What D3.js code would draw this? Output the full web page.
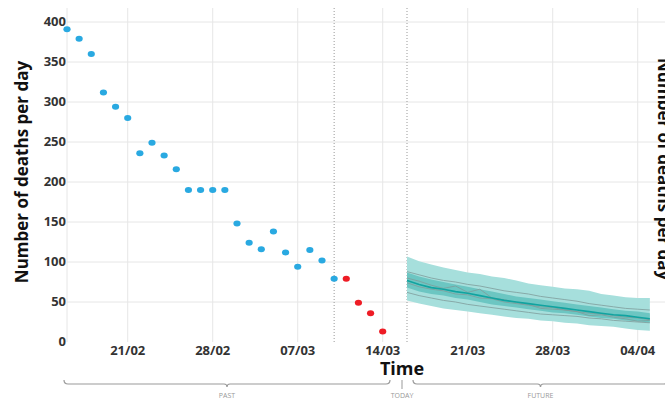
<!DOCTYPE html>
<html><head><meta charset="utf-8">
<script src="https://cdn.jsdelivr.net/npm/d3@7"></script>
<style>body{margin:0;background:#fff;font-family:"Open Sans",sans-serif}</style>
</head><body><svg id="chart" width="665" height="400"></svg>
<script>
// observed deaths, 16/02 .. 14/03
const obsDates = d3.timeDays(new Date(2021, 1, 16), new Date(2021, 2, 15));
const observed = [391, 379, 360, 312, 294, 280, 236, 249, 233, 216, 190, 190, 190, 190,
  148, 124, 116, 138, 112, 94, 115, 102, 79, 79, 49, 36, 13];
const redFrom = 23; // last 4 points are incomplete
// forecast 16/03 .. 05/04
const fcDates = d3.timeDays(new Date(2021, 2, 16), new Date(2021, 3, 6));
const median = [77, 72, 68, 66, 63, 61, 58, 55, 52, 50, 48, 46, 44, 42, 40, 38, 36, 34, 33, 31, 29];
const inLo = [68, 63, 60, 58, 55, 53, 50, 47, 45, 43, 41, 39, 37, 36, 34, 32, 30, 29, 27, 26, 24];
const inHi = [87, 82, 78, 75, 72, 69, 66, 63, 60, 57, 55, 53, 51, 49, 47, 45, 43, 41, 39, 38, 36];
const outLo = [52, 48, 45, 42, 40, 38, 36, 34, 32, 30, 29, 27, 26, 24, 23, 21, 20, 19, 17, 15, 14];
const outHi = [107, 101, 97, 93, 90, 87, 85, 82, 80, 77, 73, 71, 69, 67, 66, 64, 60, 58, 56, 55, 55];
const trajectories = [
  [88, 84, 80, 77, 75, 72, 70, 67, 64, 62, 60, 57, 55, 53, 51, 48, 46, 44, 42, 41, 40],
  [62, 58, 55, 52, 50, 47, 45, 43, 41, 39, 37, 35, 34, 33, 32, 30, 29, 27, 26, 25, 24],
  [80, 76, 71, 67, 70, 62, 66, 55, 53, 49, 47, 42, 41, 40, 38, 33, 34, 31, 29, 26, 27],
  [74, 69, 66, 64, 60, 59, 55, 54, 50, 48, 46, 44, 43, 40, 38, 36, 35, 33, 31, 30, 28]
];
const yTicks = [0, 50, 100, 150, 200, 250, 300, 350, 400];
const xTicks = [new Date(2021, 1, 21), new Date(2021, 1, 28), new Date(2021, 2, 7),
  new Date(2021, 2, 14), new Date(2021, 2, 21), new Date(2021, 2, 28), new Date(2021, 3, 4)];

const svg = d3.select("#chart");
const x = d3.scaleTime().domain([new Date(2021, 1, 16), new Date(2021, 3, 6)]).range([67, 662]);
const y = d3.scaleLinear().domain([0, 400]).range([342, 22]);

// grid
svg.append("g").selectAll("line").data(yTicks.slice(1)).join("line")
  .attr("x1", 67).attr("x2", 665).attr("y1", y).attr("y2", y)
  .attr("stroke", "#e6e6e6");
svg.append("g").selectAll("line").data(xTicks).join("line")
  .attr("x1", x).attr("x2", x).attr("y1", 8).attr("y2", 342)
  .attr("stroke", "#e6e6e6");
svg.append("line").attr("x1", 67).attr("x2", 67).attr("y1", 8).attr("y2", 342).attr("stroke", "#e6e6e6");
[new Date(2021, 2, 10), new Date(2021, 2, 16)].forEach(d => {
  svg.append("line").attr("x1", x(d)).attr("x2", x(d)).attr("y1", 8).attr("y2", 342)
    .attr("stroke", "#999").attr("stroke-dasharray", "1,2");
});

// forecast bands
const area = (lo, hi) => d3.area().x((d, i) => x(fcDates[i])).y0((d, i) => y(lo[i])).y1((d, i) => y(hi[i]))(median);
svg.append("path").attr("d", area(outLo, outHi)).attr("fill", "#a6dfdc");
svg.append("path").attr("d", area(inLo, inHi)).attr("fill", "#6cc6c2");
const line = d3.line().x((d, i) => x(fcDates[i])).y(d => y(d));
trajectories.forEach(t => svg.append("path").attr("d", line(t)).attr("fill", "none")
  .attr("stroke", "#7f9c9b").attr("stroke-width", 0.8));
svg.append("path").attr("d", line(median)).attr("fill", "none").attr("stroke", "#11a3a0").attr("stroke-width", 1.6);

// observed points
svg.append("g").selectAll("ellipse").data(observed).join("ellipse")
  .attr("cx", (d, i) => x(obsDates[i])).attr("cy", d => y(d))
  .attr("rx", 3.6).attr("ry", 3)
  .attr("fill", (d, i) => i >= redFrom ? "#ee1c25" : "#29a9e1");

// axis labels
svg.append("g").selectAll("text").data(yTicks).join("text")
  .attr("x", 66).attr("y", d => y(d) + 4).attr("text-anchor", "end")
  .attr("font-size", 13).attr("font-weight", "bold").attr("fill", "#333").text(d => d);
svg.append("g").selectAll("text").data(xTicks).join("text")
  .attr("x", x).attr("y", 355).attr("text-anchor", "middle")
  .attr("font-size", 13).attr("font-weight", "bold").attr("fill", "#333")
  .text(d3.timeFormat("%d/%m"));
svg.append("text").attr("transform", "translate(28,172) rotate(-90)").attr("text-anchor", "middle")
  .attr("font-size", 17).attr("font-weight", "bold").attr("fill", "#111").text("Number of deaths per day");
svg.append("text").attr("transform", "translate(658,58) rotate(90)")
  .attr("font-size", 17).attr("font-weight", "bold").attr("fill", "#111").text("Number of deaths per day");
svg.append("text").attr("x", 402).attr("y", 375).attr("text-anchor", "middle")
  .attr("font-size", 18).attr("font-weight", "bold").attr("fill", "#111").text("Time");

// braces
const brace = (x0, x1) => {
  const m = (x0 + x1) / 2, yb = 384;
  svg.append("path").attr("fill", "none").attr("stroke", "#999").attr("stroke-width", 1.2)
    .attr("d", `M${x0},380 Q${x0},${yb} ${x0 + 4},${yb} L${m - 3},${yb} Q${m},${yb} ${m},${yb + 3} Q${m},${yb} ${m + 3},${yb} L${x1 - 4},${yb} Q${x1},${yb} ${x1},380`);
  return m;
};
const small = (xx, t) => svg.append("text").attr("x", xx).attr("y", 398).attr("text-anchor", "middle")
  .attr("font-size", 7).attr("fill", "#999").text(t);
small(brace(64, 390), "PAST");
small(brace(413, 668), "FUTURE");
svg.append("line").attr("x1", 402).attr("x2", 402).attr("y1", 380).attr("y2", 389).attr("stroke", "#999");
small(402, "TODAY");
</script></body></html>
